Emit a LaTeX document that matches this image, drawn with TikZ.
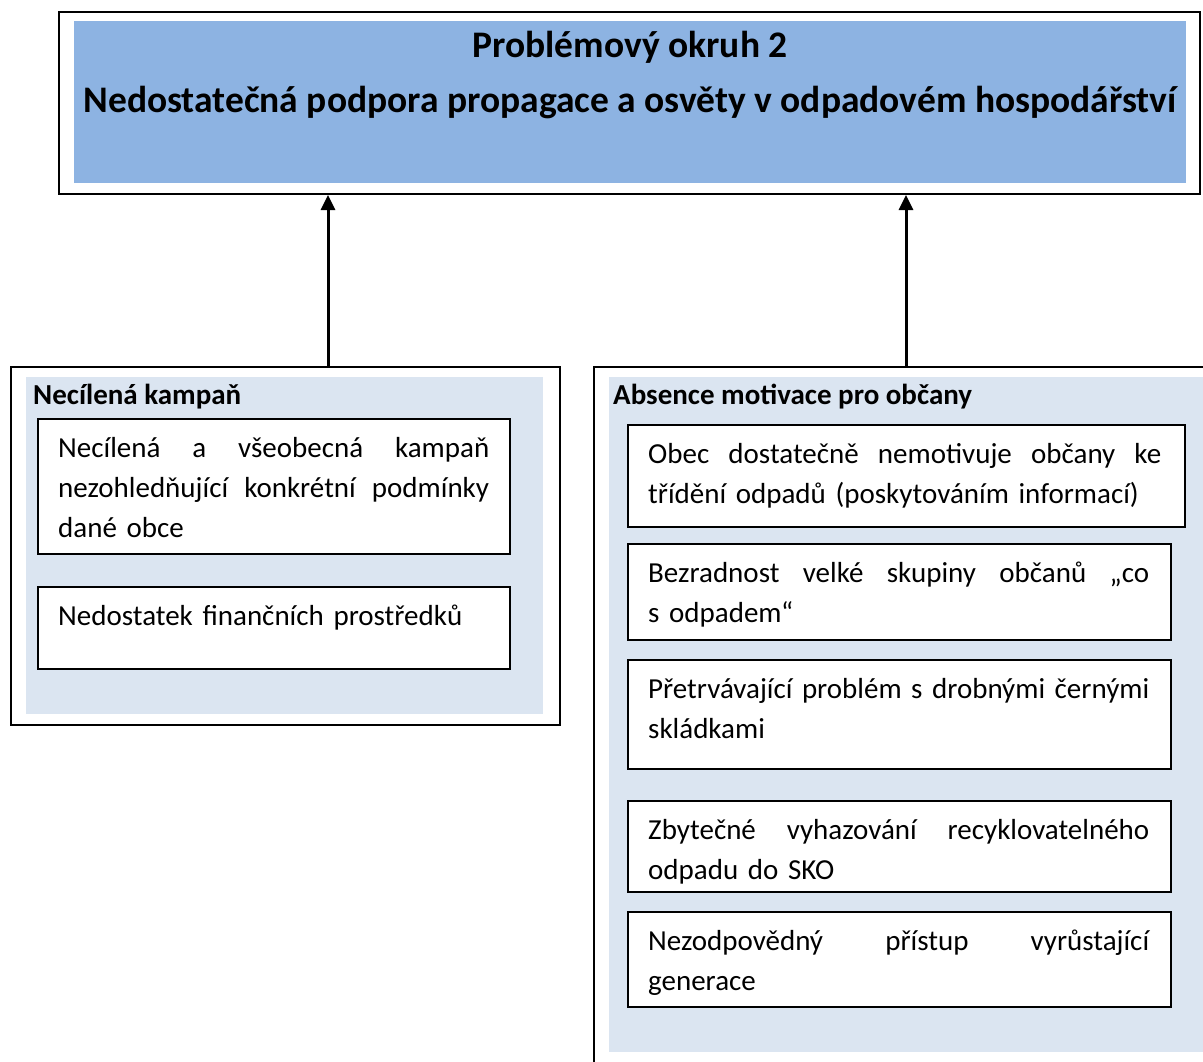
\documentclass[tikz,border=0pt]{standalone}
\usepackage{fontspec}
\setmainfont{Carlito}
\usetikzlibrary{arrows.meta, positioning}

\definecolor{titleblue}{RGB}{141,179,226}
\definecolor{panelblue}{RGB}{219,229,241}

\newcommand{\bodyfont}{\fontsize{29}{40}\selectfont}
\newcommand{\titlefont}{\fontsize{37.5}{55}\selectfont\bfseries}
% justified line: words spread over the full width
\newcommand{\gap}{\nobreak\hspace{0pt plus 1fill}}

\tikzset{
  frame/.style={draw, line width=2pt, anchor=north west, inner sep=0pt},
  panel/.style={fill=panelblue, anchor=north west, inner sep=0pt},
  item/.style={draw, line width=2pt, fill=white, anchor=north west, inner sep=0pt},
  itemtext/.style={inner sep=0pt, align=left, font=\bodyfont},
  head/.style={anchor=base west, inner sep=0pt, font=\bodyfont\bfseries},
  uparrow/.style={line width=3pt, -{Triangle[width=14pt,length=15pt]}}
}

\begin{document}
\begin{tikzpicture}[x=1pt, y=-1pt, node distance=11pt and 21pt]
\clip (0,0) rectangle (1203,1061);

% Problem box
\node[frame, minimum width=1141, minimum height=182] (problem) at (58,11) {};
\node[panel, fill=titleblue, minimum width=1112, minimum height=162] (problembg) at (74,21) {};
\node[anchor=base, inner sep=0pt, font=\titlefont] (title) at (630,57) {Problémový okruh 2};
\node[anchor=base, inner sep=0pt, font=\titlefont] (subtitle) at (630,112)
  {Nedostatečná podpora propagace a osvěty v odpadovém hospodářství};

% Cause groups
\node[frame, minimum width=549, minimum height=358] (leftgrp) at (10,366) {};
\node[panel, minimum width=517, minimum height=337] (leftbg) at (26,377) {};
\node[frame, minimum width=700, minimum height=800] (rightgrp) at (593,366) {};
\node[panel, minimum width=700, minimum height=675] (rightbg) at (609,377) {};

\node[head] (lefthead) at (33,404) {Necílená kampaň};
\node[head] (righthead) at (613,404) {Absence motivace pro občany};

% Arrows
\coordinate (la) at (328,0);
\coordinate (ra) at (906,0);
\draw[uparrow] (leftgrp.north -| la) -- (problem.south -| la);
\draw[uparrow] (rightgrp.north -| ra) -- (problem.south -| ra);

% Left items
\node[item, minimum width=472, minimum height=135] (l1) at (37,418) {};
\node[item, minimum width=472, minimum height=82] (l2) at (37,586) {};
\node[itemtext, text width=431pt, below right=of l1.north west] (l1text)
  {\strut Necílená\gap a\gap všeobecná\gap kampaň\\
   nezohledňující\gap konkrétní\gap podmínky\\
   dané obce};
\node[itemtext, text width=431pt, below right=of l2.north west] (l2text)
  {\strut Nedostatek finančních prostředků};

% Right items
\node[item, minimum width=557, minimum height=102] (r1) at (627,424) {};
\foreach \n/\y/\h in {r2/543/96, r3/659/109, r4/800/91, r5/911/95} {
  \node[item, minimum width=543, minimum height=\h] (\n) at (627,\y) {};
}
\node[itemtext, text width=513pt, below right=of r1.north west] (r1text)
  {\strut Obec\gap dostatečně\gap nemotivuje\gap občany\gap ke\\
   třídění odpadů (poskytováním informací)};
\node[itemtext, text width=501pt, below right=of r2.north west] (r2text)
  {\strut Bezradnost\gap velké\gap skupiny\gap občanů\gap „co\\
   s~odpadem“};
\node[itemtext, text width=501pt, below right=of r3.north west] (r3text)
  {\strut Přetrvávající\gap problém\gap s\gap drobnými\gap černými\\
   skládkami};
% last two texts are cut off by their boxes
\begin{scope}
  \clip (r4.north west) rectangle ([yshift=10pt]r4.south east);
  \node[itemtext, text width=501pt, below right=of r4.north west] (r4text)
    {\strut Zbytečné\gap vyhazování\gap recyklovatelného\\
     odpadu do SKO};
\end{scope}
\begin{scope}
  \clip (r5.north west) rectangle ([yshift=11pt]r5.south east);
  \node[itemtext, text width=501pt, below right=of r5.north west] (r5text)
    {\strut Nezodpovědný\gap přístup\gap vyrůstající\\
     generace};
\end{scope}
\end{tikzpicture}
\end{document}
